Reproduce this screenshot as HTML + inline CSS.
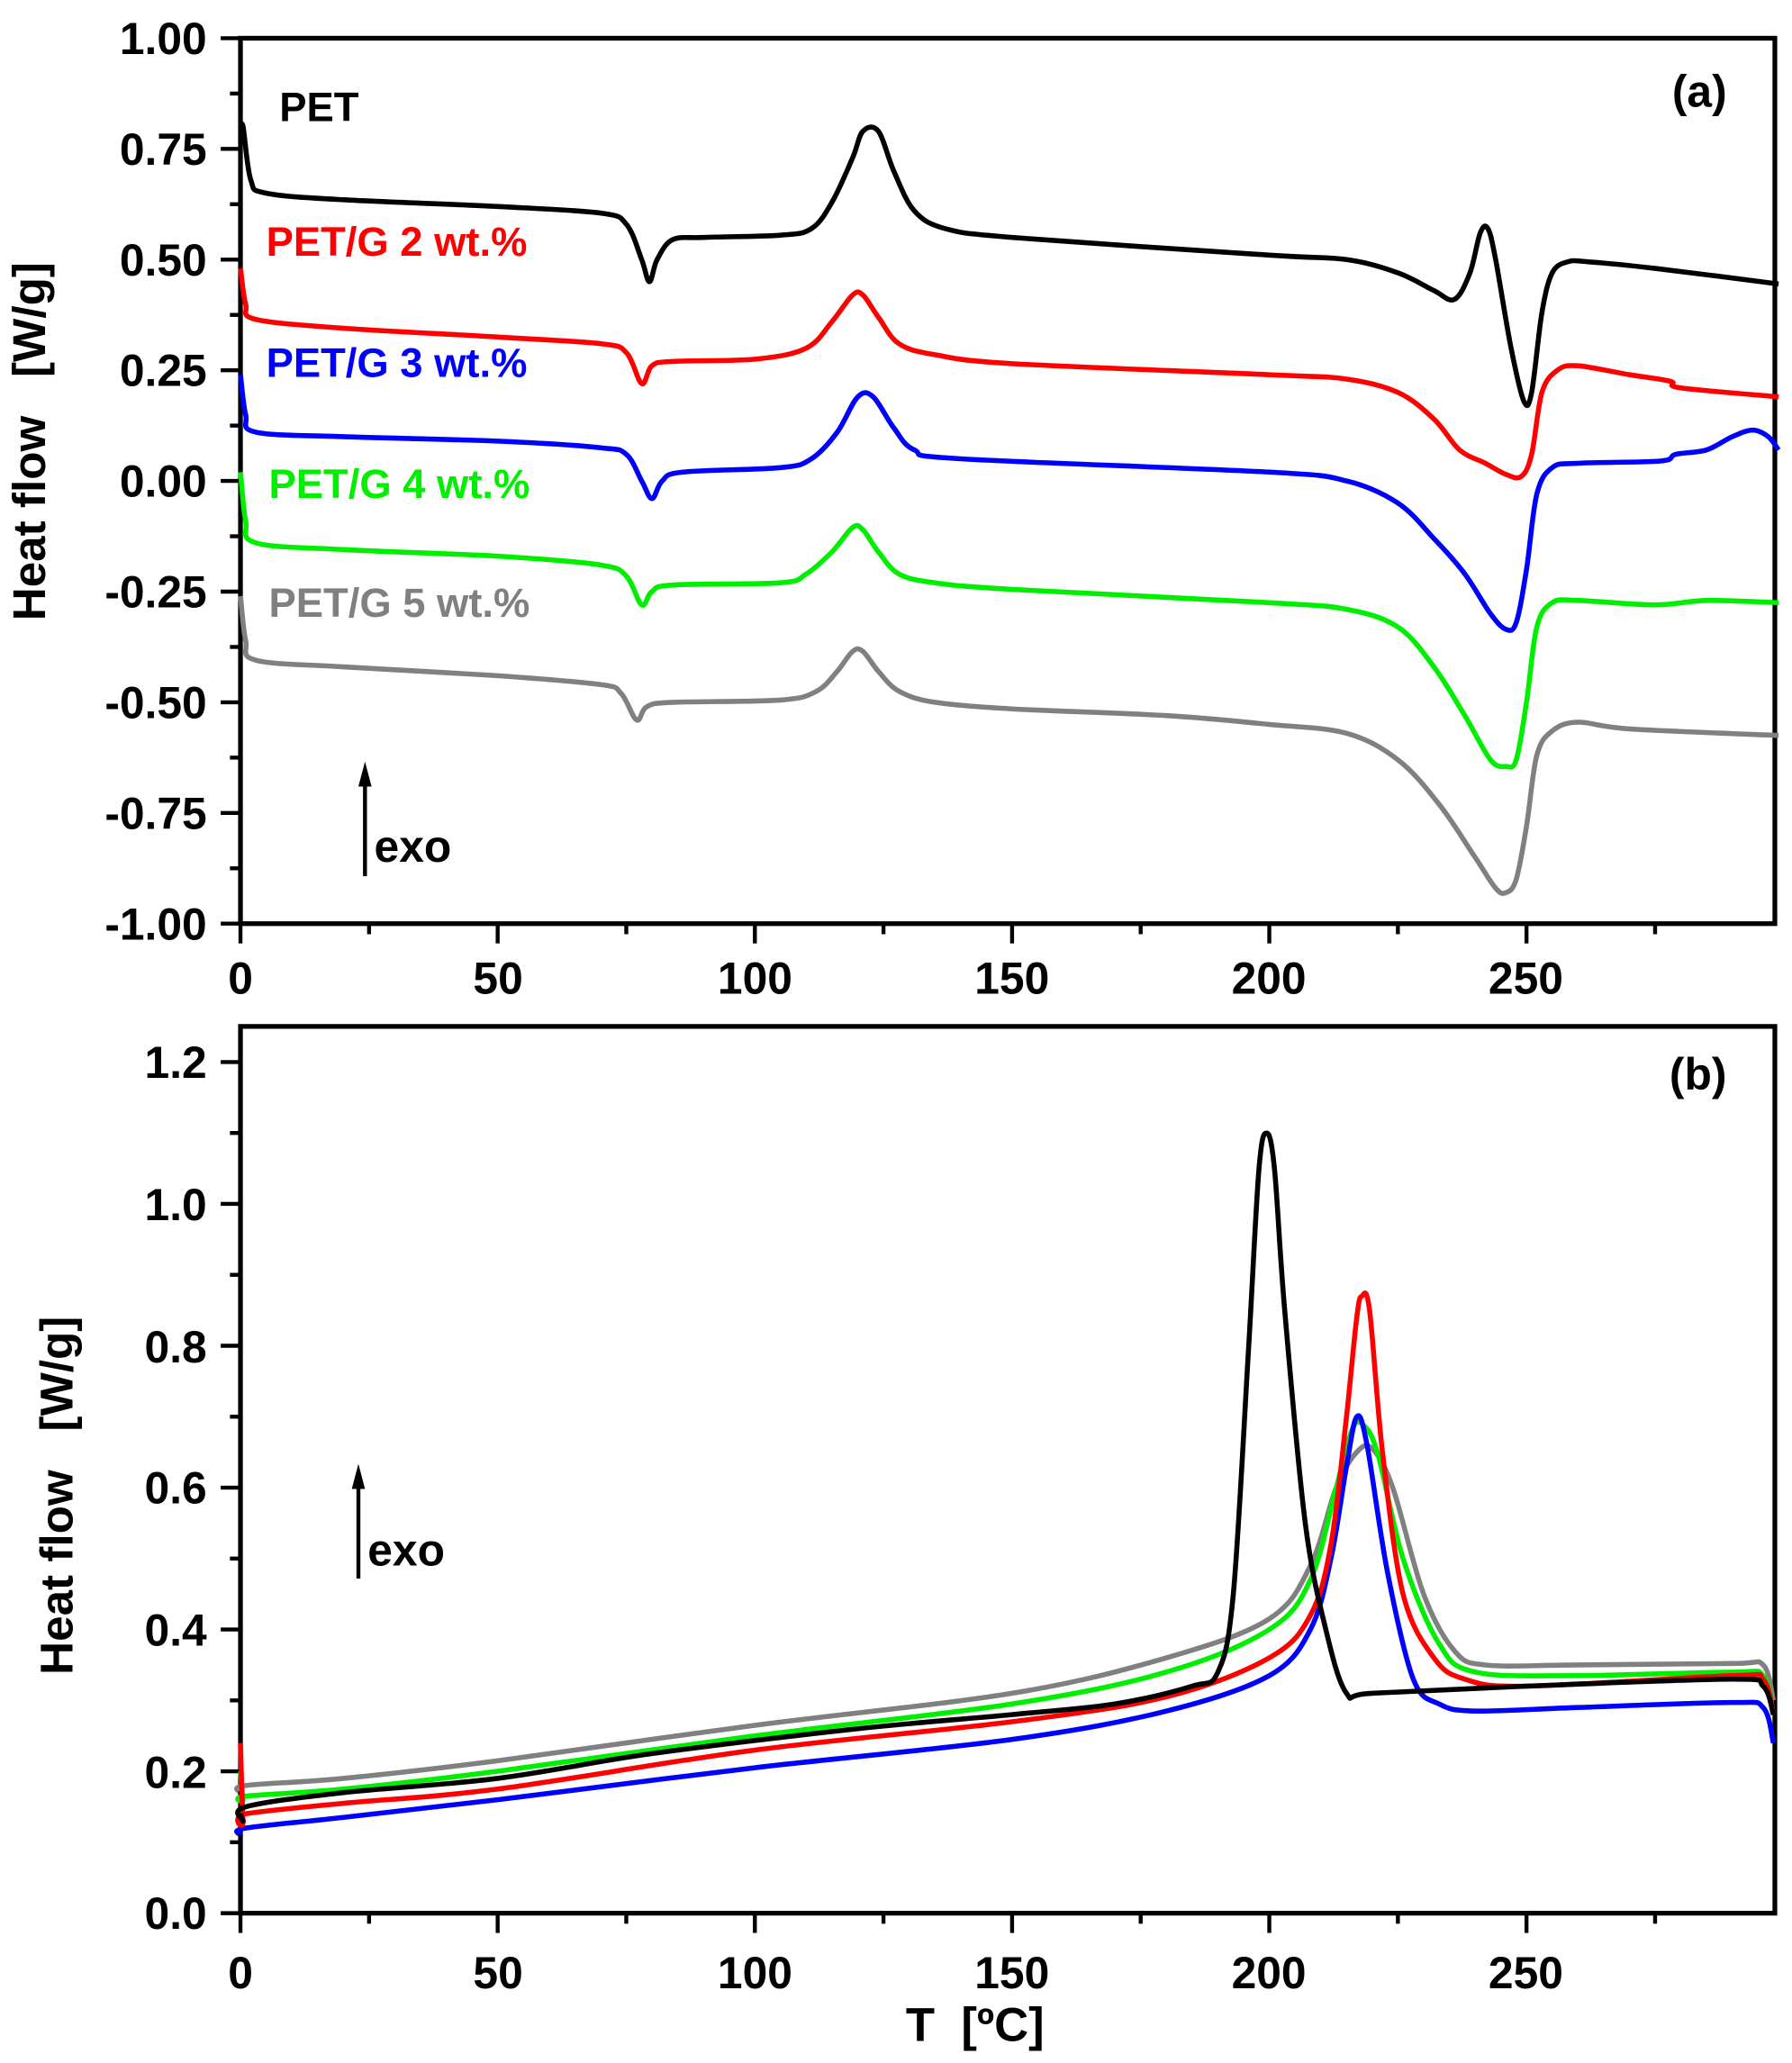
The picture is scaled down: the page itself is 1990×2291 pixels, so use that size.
<!DOCTYPE html>
<html><head><meta charset="utf-8">
<style>html,body{margin:0;padding:0;background:#fff}svg{display:block}</style>
</head><body>
<svg id="s" width="1990" height="2291" viewBox="0 0 1360 1565.7" xmlns="http://www.w3.org/2000/svg" font-family="Liberation Sans, Arial, sans-serif" font-weight="bold">
<g id="axes" stroke="#000" stroke-width="3.6" fill="none">
<rect x="182.5" y="29" width="1164.5" height="672"/>
<rect x="182.5" y="779" width="1164.5" height="673"/>
</g>
<g id="ticks" stroke="#000" stroke-width="3"></g>
<g id="curves" fill="none" stroke-width="3.8" stroke-linejoin="round"></g>
<g font-size="34" text-anchor="end" id="ylab">
<text x="157" y="41">1.00</text><text x="157" y="125">0.75</text><text x="157" y="209">0.50</text><text x="157" y="293">0.25</text><text x="157" y="377">0.00</text><text x="157" y="461">-0.25</text><text x="157" y="545">-0.50</text><text x="157" y="629">-0.75</text><text x="157" y="713">-1.00</text>
<text x="157" y="818">1.2</text><text x="157" y="926">1.0</text><text x="157" y="1034">0.8</text><text x="157" y="1141">0.6</text><text x="157" y="1249">0.4</text><text x="157" y="1357">0.2</text><text x="157" y="1464">0.0</text>
</g>
<g font-size="34" text-anchor="middle">
<text x="182.5" y="754">0</text><text x="378" y="754">50</text><text x="573" y="754">100</text><text x="768" y="754">150</text><text x="963" y="754">200</text><text x="1158" y="754">250</text>
<text x="182.5" y="1509">0</text><text x="378" y="1509">50</text><text x="573" y="1509">100</text><text x="768" y="1509">150</text><text x="963" y="1509">200</text><text x="1158" y="1509">250</text>
<text x="740" y="1549" font-size="36" xml:space="preserve">T  [ºC]</text>
<text transform="translate(34,335) rotate(-90)" font-size="35" xml:space="preserve">Heat flow   [W/g]</text>
<text transform="translate(55,1135) rotate(-90)" font-size="35" xml:space="preserve">Heat flow   [W/g]</text>
</g>
<g font-size="31">
<text x="212" y="92" fill="#000">PET</text>
<text x="202" y="194" fill="#ff0000">PET/G 2 wt.%</text>
<text x="202" y="286" fill="#0000ff">PET/G 3 wt.%</text>
<text x="204" y="378" fill="#00ee00">PET/G 4 wt.%</text>
<text x="204" y="468" fill="#808080">PET/G 5 wt.%</text>
<text x="1269" y="81" font-size="34">(a)</text>
<text x="1267" y="827" font-size="34">(b)</text>
<text x="284" y="654" font-size="34">exo</text>
<text x="279" y="1188" font-size="34">exo</text>
</g>
<g stroke="#000" stroke-width="3"><line x1="277" y1="665" x2="277" y2="592"/><line x1="272" y1="1198" x2="272" y2="1125"/></g>
<polygon points="272,597 277,578 282,597"/>
<polygon points="267,1130 272,1111 277,1130"/>
</svg>
<script>
var NS="http://www.w3.org/2000/svg";
function X(t){return 182.5+3.904*t;}
function YA(v){return 29+(1-v)*336;}
function YB(v){return 1452-v*538.3;}
function line(g,x1,y1,x2,y2){var l=document.createElementNS(NS,"line");l.setAttribute("x1",x1);l.setAttribute("y1",y1);l.setAttribute("x2",x2);l.setAttribute("y2",y2);g.appendChild(l);}
var tg=document.getElementById("ticks");
for(var t=0;t<=298;t+=25){var L=(t%50==0)?15:8;line(tg,X(t),701,X(t),701+L);line(tg,X(t),1452,X(t),1452+L);}
for(var i=0;i<=16;i++){var v=1-i*0.125;var L=(i%2==0)?15:8;line(tg,182.5-L,YA(v),182.5,YA(v));}
for(var i=0;i<=12;i++){var v=i*0.1;var L=(i%2==0)?15:8;line(tg,182.5-L,YB(v),182.5,YB(v));}
function cr(pts){var d="M"+pts[0][0].toFixed(1)+","+pts[0][1].toFixed(1);
for(var i=0;i<pts.length-1;i++){var p0=pts[Math.max(0,i-1)],p1=pts[i],p2=pts[i+1],p3=pts[Math.min(pts.length-1,i+2)];
var c1=[p1[0]+(p2[0]-p0[0])/6,p1[1]+(p2[1]-p0[1])/6],c2=[p2[0]-(p3[0]-p1[0])/6,p2[1]-(p3[1]-p1[1])/6];
d+="C"+c1[0].toFixed(1)+","+c1[1].toFixed(1)+" "+c2[0].toFixed(1)+","+c2[1].toFixed(1)+" "+p2[0].toFixed(1)+","+p2[1].toFixed(1);}
return d;}
var cg=document.getElementById("curves");
function add(data,Y,col){var pts=data.map(function(p){return [X(p[0]),Y(p[1])];});var p=document.createElementNS(NS,"path");p.setAttribute("d",cr(pts));p.setAttribute("stroke",col);cg.appendChild(p);}
var A={
"#000":[[0,0.79],[0.5,0.8],[2,0.68],[5,0.65],[20,0.635],[50,0.62],[70,0.605],[75,0.58],[78,0.5],[79.5,0.45],[81,0.5],[84,0.545],[90,0.55],[105,0.555],[111,0.57],[115,0.63],[119,0.73],[121,0.79],[124,0.79],[127,0.7],[131,0.61],[137,0.57],[150,0.55],[200,0.51],[215,0.5],[225,0.47],[232,0.43],[236,0.41],[239,0.47],[241,0.56],[242.5,0.57],[244,0.5],[247,0.3],[249.5,0.18],[251,0.2],[253,0.38],[255,0.47],[258,0.495],[262,0.495],[275,0.48],[299,0.445]],
"#ff0000":[[0,0.48],[1,0.4],[3,0.365],[20,0.345],[50,0.325],[70,0.31],[75,0.29],[78,0.22],[80,0.26],[84,0.27],[100,0.275],[110,0.3],[115,0.36],[119,0.42],[121,0.42],[124,0.37],[128,0.31],[135,0.285],[150,0.265],[200,0.24],[215,0.23],[225,0.2],[232,0.14],[237,0.07],[242,0.04],[246,0.015],[249,0.01],[251,0.06],[253,0.2],[256,0.25],[260,0.26],[270,0.24],[278,0.225],[280,0.21],[299,0.19]],
"#0000ff":[[0,0.24],[1,0.15],[3,0.11],[20,0.1],[50,0.09],[70,0.075],[75,0.06],[78,0.0],[80,-0.04],[82,0.0],[86,0.02],[105,0.03],[111,0.05],[116,0.11],[120,0.19],[123,0.19],[127,0.12],[131,0.07],[140,0.05],[200,0.02],[215,0.0],[225,-0.05],[232,-0.13],[238,-0.21],[243,-0.3],[246,-0.335],[248,-0.32],[250,-0.2],[252,-0.03],[255,0.03],[260,0.04],[276,0.045],[279,0.06],[285,0.07],[290,0.1],[294,0.115],[297,0.1],[299,0.07]],
"#00ee00":[[0,0.02],[1,-0.09],[3,-0.14],[20,-0.155],[50,-0.17],[70,-0.19],[75,-0.215],[78,-0.28],[80,-0.25],[84,-0.235],[105,-0.23],[110,-0.21],[115,-0.16],[119,-0.105],[121,-0.11],[124,-0.16],[128,-0.21],[135,-0.23],[150,-0.245],[200,-0.275],[215,-0.29],[225,-0.33],[232,-0.42],[238,-0.53],[243,-0.63],[246,-0.645],[248,-0.63],[250,-0.5],[252,-0.33],[255,-0.275],[260,-0.27],[275,-0.28],[285,-0.27],[299,-0.275]],
"#808080":[[0,-0.26],[1,-0.36],[3,-0.405],[20,-0.42],[50,-0.44],[70,-0.46],[74,-0.48],[77,-0.54],[79,-0.51],[84,-0.5],[105,-0.495],[112,-0.475],[116,-0.43],[119,-0.385],[121,-0.385],[124,-0.43],[128,-0.475],[135,-0.5],[150,-0.515],[180,-0.53],[200,-0.55],[215,-0.57],[225,-0.63],[233,-0.73],[240,-0.85],[244,-0.92],[246,-0.93],[248,-0.9],[250,-0.78],[252,-0.62],[255,-0.565],[260,-0.545],[270,-0.56],[299,-0.575]]};
var B=[
["#808080",[[0,0.17],[1,0.18],[20,0.19],[50,0.215],[100,0.265],[150,0.31],[180,0.36],[200,0.415],[208,0.49],[213,0.6],[217,0.65],[220,0.655],[224,0.6],[230,0.45],[236,0.37],[242,0.35],[260,0.35],[290,0.352],[296,0.35],[298,0.3]]],
["#00ee00",[[0,0.2],[0.5,0.16],[1,0.165],[20,0.175],[50,0.2],[100,0.25],[150,0.295],[180,0.34],[200,0.4],[208,0.47],[213,0.6],[216,0.68],[218,0.69],[221,0.65],[226,0.5],[233,0.38],[240,0.34],[260,0.335],[290,0.34],[296,0.335],[298,0.28]]],
["#0000ff",[[0,0.11],[1,0.12],[20,0.135],[50,0.16],[100,0.205],[150,0.245],[180,0.285],[200,0.335],[208,0.4],[212,0.5],[215,0.63],[217,0.7],[219,0.66],[223,0.48],[228,0.33],[233,0.295],[240,0.285],[260,0.29],[290,0.297],[296,0.29],[298,0.24]]],
["#ff0000",[[0,0.24],[0.5,0.13],[1,0.14],[20,0.155],[50,0.175],[100,0.23],[150,0.27],[180,0.305],[200,0.36],[208,0.42],[212,0.52],[215,0.7],[217,0.84],[218,0.87],[219.5,0.85],[222,0.65],[226,0.45],[232,0.36],[238,0.33],[250,0.32],[290,0.335],[296,0.33],[298,0.28]]],
["#000",[[0,0.14],[0.5,0.13],[1,0.15],[20,0.17],[50,0.19],[80,0.225],[120,0.26],[150,0.28],[170,0.295],[185,0.32],[190,0.34],[193,0.45],[196,0.8],[198,1.05],[199.5,1.1],[201,1.05],[203,0.85],[207,0.55],[211,0.4],[215,0.31],[220,0.31],[250,0.32],[290,0.33],[296,0.32],[298,0.28]]]];
for(var k in A)add(A[k],YA,k);
B.forEach(function(b){add(b[1],YB,b[0]);});
</script>
</body></html>
